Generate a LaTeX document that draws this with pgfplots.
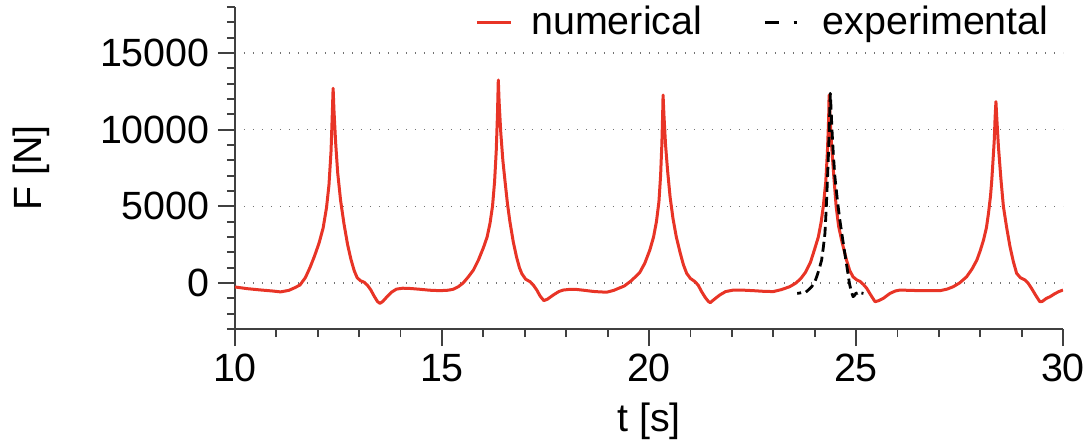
\documentclass[border=0pt]{standalone}
\usepackage{pgfplots}
\pgfplotsset{compat=1.18}
\usepackage{fontspec}
\setmainfont{Liberation Sans}
\definecolor{numred}{RGB}{232,52,38}
\pgfplotsset{explegend/.style={legend image code/.code={\draw[##1, dash pattern=on 1.2bp off 6bp on 7bp off 7.3bp on 1.5bp off 30bp] (0cm,0cm) -- (23bp,0cm);}}}
\begin{document}
\begin{tikzpicture}[font=\fontsize{19.7bp}{23bp}\selectfont]
\useasboundingbox (-117.5bp,-56.5bp) rectangle (428.5bp,164.5bp);
\begin{axis}[
  scale only axis, width=414bp, height=161bp,
  at={(0,0)}, anchor=south west,
  xmin=10, xmax=30, ymin=-3000, ymax=18000,
  axis lines*=left,
  axis line style={black!75, line width=0.9bp, -},
  xtick={10,15,20,25,30}, minor x tick num=4,
  ytick={0,5000,10000,15000}, minor ytick={-3000,-2000,-1000,1000,2000,3000,4000,6000,7000,8000,9000,11000,12000,13000,14000,16000,17000,18000},
  tick align=outside,
  major tick length=8.5bp, minor tick length=4bp,
  every tick/.style={black!75, line width=0.9bp},
  scaled y ticks=false,
  /pgf/number format/assume math mode=true,
  yticklabel style={/pgf/number format/fixed, /pgf/number format/1000 sep={}},
  tick label style={inner sep=4bp},
  ymajorgrids,
  major grid style={black!55, line width=0.7bp, dash pattern=on 0.7bp off 3.8bp},
  xlabel={t [s]}, ylabel={F [N]},
  xlabel style={at={(axis description cs:0.5,-0.2857)}, anchor=center, inner sep=0pt},
  ylabel style={at={(axis description cs:-0.2464,0.5)}, anchor=center, inner sep=0pt, rotate=0},
  legend columns=2,
  legend style={draw=none, fill=none, at={(rel axis cs:0.983,1.003)}, anchor=north east, inner sep=0pt,
    nodes={inner sep=0pt},
    /tikz/every odd column/.append style={column sep=9.5bp},
    /tikz/every even column/.append style={column sep=26.5bp}},
  legend cell align=left,
]
\addplot[numred, line width=1.5bp, line join=round] coordinates {
(10.0,-260) (10.3,-370) (10.6,-450) (10.9,-520) (11.1,-580) (11.3,-480) (11.45,-300)
(11.57,-130) (11.70,350) (11.81,1000) (11.92,1750) (12.03,2600) (12.13,3600) (12.21,4900)
(12.27,6400) (12.32,8600) (12.35,11000) (12.37,12700) (12.39,11300) (12.43,9200) (12.48,7200)
(12.55,5400) (12.63,3900) (12.72,2500) (12.80,1550) (12.88,800) (12.95,350) (13.03,150)
(13.12,50) (13.20,-150) (13.28,-450) (13.36,-850) (13.44,-1200) (13.50,-1330) (13.57,-1200)
(13.67,-900) (13.78,-600) (13.90,-400) (14.05,-340) (14.25,-360) (14.47,-410) (14.7,-470)
(14.95,-500) (15.15,-470) (15.27,-410) (15.40,-230) (15.51,0) (15.63,380) (15.76,850)
(15.88,1500) (16.00,2300) (16.09,3000) (16.16,3900) (16.22,5000) (16.27,6600) (16.31,8600)
(16.34,11000) (16.36,13240) (16.38,11800) (16.42,9800) (16.47,8000) (16.52,6700) (16.58,5200)
(16.64,4000) (16.72,2700) (16.80,1700) (16.87,1000) (16.93,600) (17.02,250) (17.13,80)
(17.21,-150) (17.29,-460) (17.37,-850) (17.46,-1150) (17.55,-1050) (17.69,-780) (17.82,-560)
(17.93,-460) (18.10,-410) (18.25,-420) (18.45,-480) (18.65,-550) (18.82,-580) (18.98,-600)
(19.15,-480) (19.28,-330) (19.40,-200) (19.55,100) (19.67,400) (19.78,700) (19.90,1300)
(20.02,2150) (20.11,3000) (20.18,4000) (20.24,5300) (20.28,7000) (20.31,9000) (20.33,11000)
(20.34,12260) (20.36,11000) (20.40,9000) (20.45,7300) (20.51,5600) (20.58,4200) (20.66,3000)
(20.75,2000) (20.83,1200) (20.91,630) (21.00,300) (21.11,90) (21.19,-150) (21.27,-560)
(21.36,-950) (21.44,-1220) (21.48,-1280) (21.56,-1100) (21.71,-780) (21.85,-560) (22.04,-460)
(22.30,-470) (22.52,-500) (22.75,-540) (23.00,-560) (23.20,-430) (23.40,-240) (23.55,0)
(23.67,300) (23.78,700) (23.90,1350) (24.00,2200) (24.09,3000) (24.16,4000) (24.21,5000)
(24.27,6600) (24.31,8600) (24.34,10800) (24.35,12260) (24.37,11000) (24.41,9000) (24.46,7100)
(24.52,5000) (24.58,3700) (24.66,2700) (24.77,1500) (24.85,800) (24.93,400) (25.02,200)
(25.10,100) (25.18,-100) (25.26,-350) (25.36,-800) (25.46,-1220) (25.55,-1150) (25.66,-1000)
(25.82,-680) (25.95,-520) (26.06,-460) (26.30,-480) (26.55,-500) (26.80,-500) (27.03,-500)
(27.20,-400) (27.35,-240) (27.50,0) (27.67,400) (27.80,900) (27.92,1500) (28.00,2100)
(28.08,2800) (28.15,3600) (28.20,4540) (28.25,5700) (28.28,6720) (28.31,8000) (28.34,9330)
(28.36,10800) (28.38,11830) (28.40,10800) (28.44,8900) (28.50,6800) (28.56,5000) (28.64,3600)
(28.72,2370) (28.80,1400) (28.88,630) (28.97,350) (29.08,200) (29.16,-20) (29.24,-350)
(29.34,-800) (29.44,-1220) (29.50,-1200) (29.60,-1000) (29.69,-890) (29.80,-700) (29.90,-560)
(30.00,-460)
};
\addlegendentry{numerical}
\addplot[black, line width=1.4bp, dash pattern=on 5bp off 2.5bp, dash phase=3bp, line join=round, explegend] coordinates {
(23.58,-680) (23.65,-650) (23.72,-600) (23.77,-630) (23.83,-500) (23.93,-240) (24.00,50)
(24.05,400) (24.11,900) (24.17,1500) (24.21,2300) (24.25,3240) (24.28,4800) (24.31,6720)
(24.34,8800) (24.36,10630) (24.38,12370) (24.40,11200) (24.42,9980) (24.45,8500) (24.49,6930)
(24.55,5400) (24.61,4100) (24.67,3000) (24.73,1930) (24.79,900) (24.84,0) (24.88,-500)
(24.93,-890) (24.97,-800) (25.00,-650) (25.03,-680) (25.08,-560) (25.13,-650) (25.18,-680)
};
\addlegendentry{experimental}
\end{axis}
\end{tikzpicture}
\end{document}
